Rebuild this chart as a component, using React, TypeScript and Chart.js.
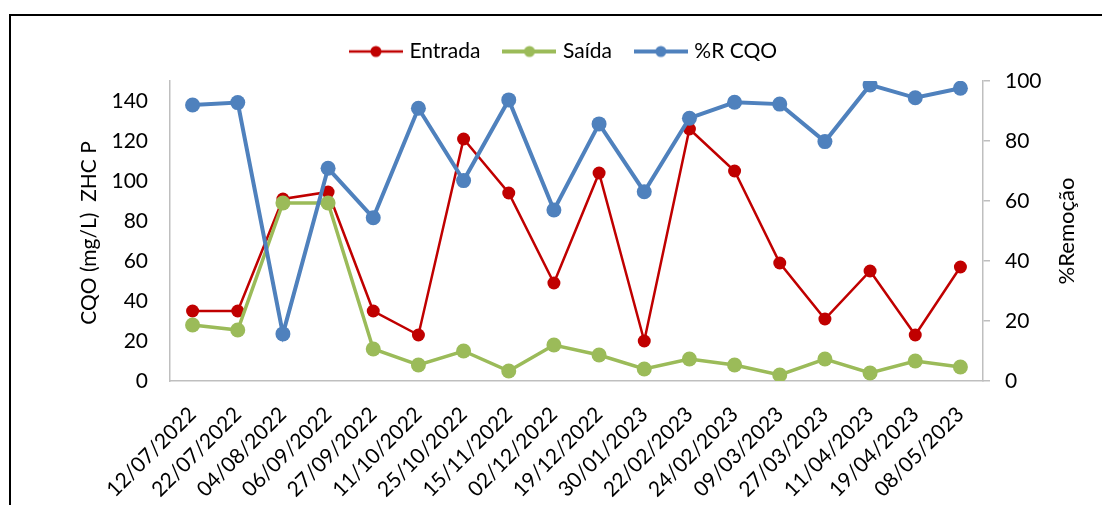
import React, { useEffect, useRef } from 'react';
import { Chart, registerables } from 'chart.js';

Chart.register(...registerables);

const dates = [
  '12/07/2022', '22/07/2022', '04/08/2022', '06/09/2022', '27/09/2022', '11/10/2022',
  '25/10/2022', '15/11/2022', '02/12/2022', '19/12/2022', '30/01/2023', '22/02/2023',
  '24/02/2023', '09/03/2023', '27/03/2023', '11/04/2023', '19/04/2023', '08/05/2023',
];
const entrada = [35, 35, 91, 94.5, 35, 23, 121, 94, 49, 104, 20, 126, 105, 59, 31, 55, 23, 57];
const saida = [28, 25.5, 89, 89, 16, 8, 15, 5, 18, 13, 6, 11, 8, 3, 11, 4, 10, 7];
const remocao = [92, 92.8, 15.7, 70.9, 54.4, 90.9, 66.8, 93.7, 57, 85.7, 63.1, 87.6, 92.9, 92.3, 79.8, 98.7, 94.4, 97.6];

const leftTicks = [0, 20, 40, 60, 80, 100, 120, 140];
const seriesNames = ['Entrada', 'Saída', '%R CQO'];
const leftTitle = 'CQO (mg/L)  ZHC P';
const rightTitle = '%Remoção';

const RED = '#C00000';
const GREEN = '#9BBB59';
const BLUE = '#4F81BD';
const AXIS = '#BFBFBF';
const FONT = 'Lato';

function legendImg(color: string, lw: number, r: number) {
  const c = document.createElement('canvas');
  c.width = 54;
  c.height = 16;
  const g = c.getContext('2d')!;
  g.strokeStyle = color;
  g.lineWidth = lw;
  g.beginPath();
  g.moveTo(0, 8);
  g.lineTo(54, 8);
  g.stroke();
  g.fillStyle = color;
  g.beginPath();
  g.arc(27, 8, r, 0, Math.PI * 2);
  g.fill();
  return c;
}

const axisTitles = {
  id: 'axisTitles',
  afterDraw(chart: any) {
    const { ctx, chartArea, scales } = chart;
    const cy = (chartArea.top + chartArea.bottom) / 2;
    ctx.save();
    ctx.fillStyle = '#000';
    ctx.textAlign = 'center';
    ctx.textBaseline = 'middle';
    ctx.save();
    ctx.font = `21px ${FONT}`;
    ctx.translate(scales.y.left + 61, cy + 2);
    ctx.rotate(-Math.PI / 2);
    ctx.fillText(leftTitle, 0, 0);
    ctx.restore();
    ctx.save();
    ctx.font = `22px ${FONT}`;
    ctx.translate(chartArea.right + 84, cy);
    ctx.rotate(-Math.PI / 2);
    ctx.fillText(rightTitle, 0, 0);
    ctx.restore();
    ctx.restore();
  },
};

const legendHeight = {
  id: 'legendHeight',
  beforeLayout(chart: any) {
    const lg = chart.legend;
    if (lg && !lg.__wrapped) {
      const orig = lg.fit.bind(lg);
      lg.fit = function () {
        orig();
        this.height = 66;
      };
      lg.__wrapped = true;
    }
  },
};

export default function App() {
  const ref = useRef<HTMLCanvasElement>(null);

  useEffect(() => {
    if (!ref.current) return;
    const colors = [RED, GREEN, BLUE];
    const legendW = [2.5, 4, 4];
    const chart = new Chart(ref.current, {
      type: 'line',
      data: {
        labels: dates,
        datasets: [
          {
            label: seriesNames[0], data: entrada, yAxisID: 'y', order: 2,
            borderColor: RED, backgroundColor: RED, borderWidth: 2.5,
            pointRadius: 6.5, pointBackgroundColor: RED, pointBorderWidth: 0, tension: 0,
          },
          {
            label: seriesNames[1], data: saida, yAxisID: 'y', order: 1,
            borderColor: GREEN, backgroundColor: GREEN, borderWidth: 3.5,
            pointRadius: 7.5, pointBackgroundColor: GREEN, pointBorderWidth: 0, tension: 0,
          },
          {
            label: seriesNames[2], data: remocao, yAxisID: 'y1', order: 0,
            borderColor: BLUE, backgroundColor: BLUE, borderWidth: 4,
            pointRadius: 7.5, pointBackgroundColor: BLUE, pointBorderWidth: 0, tension: 0,
          },
        ],
      },
      options: {
        responsive: false,
        animation: false,
        events: [],
        layout: { padding: { top: 15, left: 28, right: 0, bottom: 0 } },
        plugins: {
          legend: {
            position: 'top',
            labels: {
              usePointStyle: true,
              pointStyleWidth: 46,
              padding: 26,
              color: '#000',
              font: { family: FONT, size: 21 },
              generateLabels: () =>
                seriesNames.map((t, i) => ({
                  text: t,
                  fillStyle: colors[i],
                  strokeStyle: colors[i],
                  lineWidth: 0,
                  hidden: false,
                  datasetIndex: i,
                  pointStyle: legendImg(colors[i], legendW[i], 5.5),
                })),
            },
          },
          tooltip: { enabled: false },
        },
        scales: {
          x: {
            type: 'category',
            offset: true,
            grid: { display: false, drawTicks: false },
            border: { display: true, color: AXIS, width: 1.5 },
            ticks: {
              autoSkip: false,
              maxRotation: 45,
              minRotation: 45,
              padding: 21,
              color: '#000',
              font: { family: FONT, size: 21 },
            },
            afterFit: (s: any) => { s.height = 124; },
          },
          y: {
            type: 'linear',
            position: 'left',
            min: 0,
            max: 150,
            grid: { display: false, drawTicks: false },
            border: { display: true, color: AXIS, width: 1.5 },
            ticks: { stepSize: 20, padding: 22, color: '#000', font: { family: FONT, size: 21 } },
            afterBuildTicks: (s: any) => {
              s.ticks = leftTicks.map((v) => ({ value: v }));
            },
            afterFit: (s: any) => { s.width = 142; },
          },
          y1: {
            type: 'linear',
            position: 'right',
            min: 0,
            max: 100,
            grid: { display: true, drawOnChartArea: false, drawTicks: true, tickLength: 7, color: AXIS, lineWidth: 1.5 },
            border: { display: true, color: AXIS, width: 1.5 },
            ticks: { stepSize: 20, padding: 15, color: '#000', font: { family: FONT, size: 21 } },
            afterFit: (s: any) => { s.width = 119; },
          },
        },
      },
      plugins: [axisTitles, legendHeight],
    } as any);
    return () => chart.destroy();
  }, []);

  return (
    <div style={{ position: 'absolute', left: 0, top: 0, width: 1102, height: 505, overflow: 'hidden', background: '#fff' }}>
      <canvas ref={ref} width={1102} height={505} style={{ display: 'block', position: 'absolute', left: 0, top: 0 }} />
      <div
        style={{
          position: 'absolute', left: 9, top: 14, right: -10, bottom: -10,
          borderLeft: '2px solid #000', borderTop: '2px solid #000', pointerEvents: 'none',
        }}
      />
    </div>
  );
}
